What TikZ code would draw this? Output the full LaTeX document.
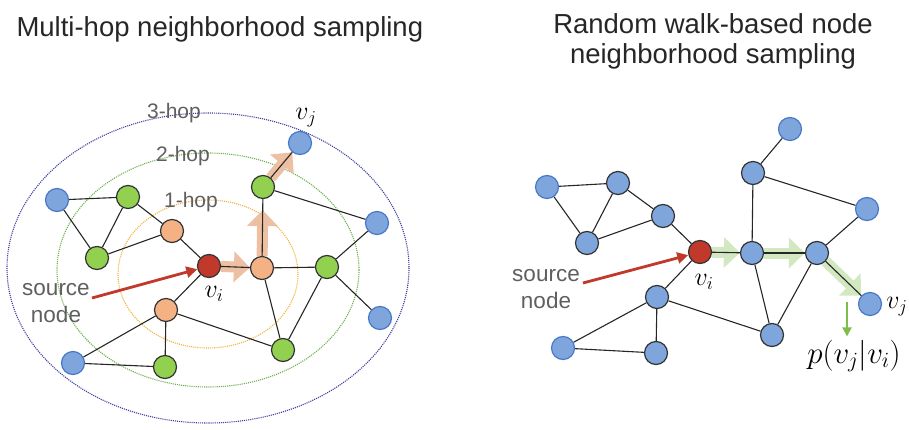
\RequirePackage{fix-cm}
\documentclass[tikz,border=0pt]{standalone}
\usepackage{fontspec}
\setmainfont{Liberation Sans}
\usetikzlibrary{arrows.meta,backgrounds}
\definecolor{nodeblue}{HTML}{7EA6DC}
\definecolor{blueline}{HTML}{4A78C8}
\definecolor{nodegreen}{HTML}{92D050}
\definecolor{nodeorange}{HTML}{F4B183}
\definecolor{nodered}{HTML}{C0392B}
\definecolor{hopgray}{HTML}{5F5F5F}
\definecolor{walkorange}{HTML}{EDBFA3}
\definecolor{walkgreen}{HTML}{D2E8C0}
\definecolor{ringblue}{HTML}{40409F}
\definecolor{ringgreen}{HTML}{6DB04E}
\definecolor{ringorange}{HTML}{F0B440}
\definecolor{probgreen}{HTML}{7DBE4A}

\begin{document}
\begin{tikzpicture}[x=1pt,y=-1pt,
  vertex/.style={circle,minimum size=23pt,inner sep=0pt,line width=1.2pt,draw=black!80},
  leafnode/.style={vertex,fill=nodeblue,draw=blueline},
  graphnode/.style={vertex,fill=nodeblue},
  onehop/.style={vertex,fill=nodeorange},
  twohop/.style={vertex,fill=nodegreen},
  srcnode/.style={vertex,fill=nodered},
  link/.style={line width=1.1pt,black!85},
  walkarrow/.style={line width=11pt,-{Triangle[length=16pt,width=30pt]}},
  ring/.style={densely dotted,line width=1.1pt},
  hoplabel/.style={text=hopgray,font=\fontsize{21}{21}\selectfont},
  srclabel/.style={text=hopgray,align=center,font=\fontsize{22.5}{27}\selectfont},
  pointer/.style={line width=2.8pt,nodered,-{Triangle[length=11pt,width=11pt]}},
  vlabel/.style={font=\fontsize{26}{26}\selectfont},
  title/.style={font=\fontsize{27.5}{30}\selectfont,align=center,text=black!85}]
\useasboundingbox (0,0) rectangle (909,430);

% titles
\node[title,anchor=base west] (titleL) at (13,37) {Multi-hop neighborhood sampling};
\node[title,anchor=base] (titleR) at (713,64) {Random walk-based node\\neighborhood sampling};

% ---- left: multi-hop ----
\node[leafnode] (l1) at (57,200) {};
\node[twohop] (g1) at (128,197) {};
\node[twohop] (g2) at (97,258) {};
\node[onehop] (o1) at (172,231) {};
\node[srcnode] (vi) at (209,266) {};
\node[onehop] (o2) at (262,268) {};
\node[twohop] (g3) at (263,187) {};
\node[leafnode] (vj) at (300,143) {};
\node[leafnode] (r1) at (377,223) {};
\node[twohop] (g4) at (327,267) {};
\node[leafnode] (r2) at (380,318) {};
\node[onehop] (o3) at (166,310) {};
\node[twohop] (g5) at (283,350) {};
\node[leafnode] (b1) at (73,363) {};
\node[twohop] (g6) at (165,367) {};

\begin{pgfonlayer}{background}
\draw[ring,ringblue] (208,268) ellipse [x radius=201, y radius=155];
\draw[ring,ringgreen] (208,270) ellipse [x radius=151, y radius=117];
\draw[ring,ringorange] (208,274) ellipse [x radius=90, y radius=74];
\draw[walkarrow,walkorange] (vi) -- (o2);
\draw[walkarrow,walkorange,shorten >=11pt] (o2) -- (g3);
\draw[walkarrow,walkorange] (g3) -- (vj);
\end{pgfonlayer}

\foreach \a/\b in {l1/g1,l1/g2,g1/g2,g1/o1,g2/o1,o1/vi,vi/o2,vi/o3,o2/g3,g3/vj,
  g3/r1,o2/g4,g4/r1,g4/r2,o2/g5,g4/g5,o3/g5,o3/b1,o3/g6,b1/g6}
  \draw[link] (\a) -- (\b);

\node[hoplabel] (h3) at (174,113) {3-hop};
\node[hoplabel] (h2) at (183,156) {2-hop};
\node[hoplabel] (h1) at (191,202) {1-hop};
\node[srclabel] (srcL) at (56,303) {source\\node};
\coordinate (srcLtail) at (92,298);
\draw[pointer] (srcLtail) -- (vi);
\node[vlabel] (viL) at (214,294) {$v_i$};
\node[vlabel] (vjL) at (306,118) {$v_j$};

% ---- right: random walk ----
\node[leafnode] (a1) at (547,187) {};
\node[graphnode] (a2) at (618,183) {};
\node[graphnode] (a3) at (663,216) {};
\node[graphnode] (a4) at (587,243) {};
\node[srcnode] (wi) at (700,252) {};
\node[graphnode] (a5) at (657,297) {};
\node[leafnode] (a6) at (563,348) {};
\node[graphnode] (a7) at (656,353) {};
\node[graphnode] (c1) at (752,253) {};
\node[graphnode] (c2) at (753,173) {};
\node[leafnode] (c3) at (790,129) {};
\node[leafnode] (c4) at (867,209) {};
\node[graphnode] (c5) at (817,253) {};
\node[graphnode] (c6) at (772,335) {};
\node[leafnode] (wj) at (870,304) {};

\begin{pgfonlayer}{background}
\draw[walkarrow,walkgreen] (wi) -- (c1);
\draw[walkarrow,walkgreen] (c1) -- (c5);
\draw[walkarrow,walkgreen] (c5) -- (wj);
\end{pgfonlayer}

\foreach \a/\b in {a1/a2,a1/a4,a2/a4,a2/a3,a4/a3,a3/wi,wi/a5,wi/c1,a5/a6,a5/a7,
  a6/a7,a5/c6,c1/c2,c2/c3,c2/c4,c1/c5,c1/c6,c5/c4,c5/c6,c5/wj}
  \draw[link] (\a) -- (\b);

\node[srclabel] (srcR) at (546,289) {source\\node};
\coordinate (srcRtail) at (583,283);
\draw[pointer] (srcRtail) -- (wi);
\node[vlabel] (viR) at (704,282) {$v_i$};
\node[vlabel] (vjR) at (897,307) {$v_j$};
\node[font=\fontsize{31}{31}\selectfont] (prob) at (854,356) {$p(v_j|v_i)$};
\coordinate (probtail) at (847,302);
\draw[line width=2pt,probgreen,-{Triangle[length=9pt,width=9pt]}] (probtail) -- (prob.north -| probtail);
\end{tikzpicture}
\end{document}
